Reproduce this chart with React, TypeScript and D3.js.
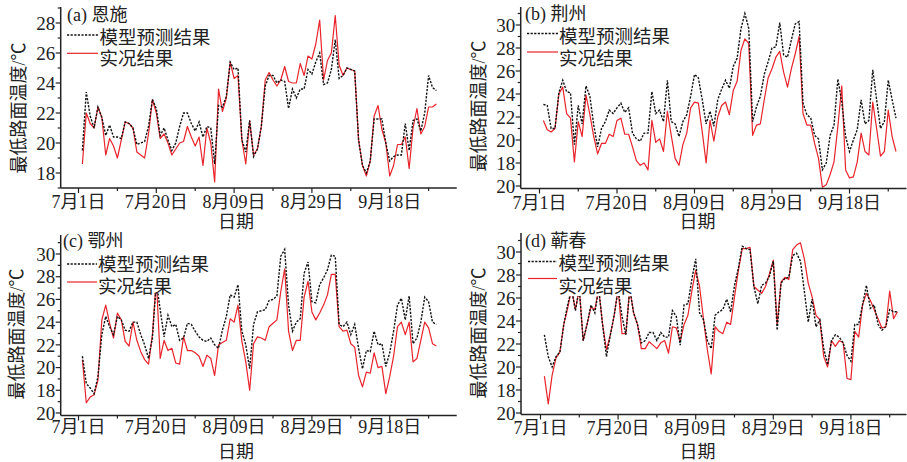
import React from "react";
import * as d3 from "d3";

// day index: 1 = 7月1日 ... 92 = 9月30日
const dayIndex = d3.range(1, 93);
const xTickDays = [0, 20, 40, 60, 80];
const xTickLabels = ["7月1日", "7月20日", "8月09日", "8月29日", "9月18日"];
const xMinorDays = [10, 30, 50, 70, 90];

const yTicksA = [18, 20, 22, 24, 26, 28];
const yTickLabelsA = ["18", "20", "22", "24", "26", "28"];
const yMinorA = [17, 19, 21, 23, 25, 27, 29];
const yTicksBCD = [16, 18, 20, 22, 24, 26, 28, 30];
const yTickLabelsBCD = ["20", "18", "20", "22", "24", "26", "28", "30"];
const yMinorBCD = [17, 19, 21, 23, 25, 27, 29, 31];

const seriesNames = ["模型预测结果", "实况结果"];
const panelTitles = ["(a) 恩施", "(b) 荆州", "(c) 鄂州", "(d) 蕲春"];
const yTitle = "最低路面温度/℃";
const xTitle = "日期";

const enshiModel = [19.5,23.4,21.8,21.0,22.4,21.7,20.5,21.2,20.4,20.4,20.3,21.4,21.3,21.0,19.9,20.0,20.1,21.1,22.9,22.3,20.5,21.0,20.2,19.5,20.0,21.1,22.0,22.0,21.3,20.8,21.4,20.4,21.1,21.0,18.6,22.5,22.4,23.1,25.4,24.9,25.0,20.2,19.4,21.5,19.1,19.6,21.1,23.8,24.5,24.5,24.0,24.2,24.1,22.3,23.6,23.0,23.6,23.6,24.9,24.6,25.4,26.0,23.9,24.0,24.9,26.9,24.3,24.5,25.0,24.9,24.8,20.2,18.5,18.0,18.8,21.6,21.6,21.6,20.0,18.8,19.1,19.2,19.2,21.3,19.5,21.5,21.6,20.8,22.0,24.5,23.7,23.5];
const enshiActual = [18.6,22.0,21.3,21.0,22.4,21.7,19.2,20.3,19.8,19.0,20.2,21.4,21.3,21.0,19.4,19.2,19.0,20.6,22.9,22.0,20.3,20.6,20.0,19.2,19.6,20.0,20.1,21.1,20.4,19.8,20.4,18.5,21.0,20.0,17.4,23.6,22.1,23.0,25.4,24.3,24.5,20.2,18.6,21.5,19.2,19.6,21.1,24.2,24.7,24.2,23.8,24.2,25.1,24.1,24.0,24.0,25.3,24.5,25.8,25.6,26.6,28.2,24.2,25.5,26.0,28.5,25.2,24.5,25.0,24.9,24.8,20.2,18.5,17.8,18.8,21.8,22.5,20.9,20.0,17.8,18.5,19.9,19.9,20.4,18.3,21.0,22.3,20.6,21.1,22.4,22.4,22.6];

const jingzhouModel = [23.1,23.0,21.0,21.0,24.1,25.2,24.2,24.1,19.6,23.0,21.4,24.7,23.8,21.3,19.4,21.0,21.6,22.6,22.3,22.8,23.2,22.4,22.8,20.6,20.1,19.9,20.6,20.6,24.2,22.3,22.6,21.6,25.2,21.6,21.4,20.3,21.6,22.2,23.8,25.7,25.4,23.5,21.4,22.5,21.2,23.5,24.4,25.2,24.5,26.4,27.1,29.7,31.0,29.7,21.6,22.9,23.8,25.7,26.8,28.0,28.1,30.2,27.4,27.2,28.7,30.1,30.3,23.2,22.2,21.9,20.4,20.1,17.4,18.0,20.4,21.3,25.3,23.3,20.3,19.0,20.0,20.9,23.5,21.4,21.7,26.1,23.5,21.0,21.6,25.2,23.5,21.9];
const jingzhouActual = [21.7,20.9,20.7,21.0,24.0,24.6,22.3,21.9,18.1,21.6,20.3,23.9,22.2,20.3,18.8,19.7,19.7,20.5,20.3,21.7,21.9,20.5,20.5,19.4,18.2,17.8,18.0,17.4,21.7,19.8,20.1,19.0,22.5,20.4,18.4,17.8,19.6,20.6,22.8,23.3,23.2,20.7,18.0,21.7,19.9,22.0,23.0,23.3,22.2,24.3,25.1,27.8,28.8,28.4,20.4,21.3,21.4,23.5,25.4,26.2,27.2,27.7,25.9,24.6,26.2,27.5,29.0,22.3,21.3,21.3,19.7,18.4,15.9,16.1,17.0,18.1,21.2,24.7,17.4,16.7,16.8,18.1,20.6,19.0,18.7,23.3,21.0,18.6,19.0,22.6,20.3,19.0];

const ezhouModel = [21.0,18.6,18.2,17.7,19.2,22.9,24.5,23.6,22.9,24.5,24.2,23.3,23.2,24.0,24.0,22.9,22.0,20.8,22.6,27.5,25.1,22.7,24.6,23.6,23.8,22.4,22.6,23.9,23.8,23.2,22.7,22.4,22.3,22.6,22.0,21.7,23.3,24.5,26.4,26.2,27.3,23.2,22.0,19.9,23.8,24.9,25.0,25.1,25.9,26.0,26.3,29.8,30.4,25.5,23.2,24.0,24.3,28.3,29.3,25.8,25.7,27.3,27.9,28.6,29.9,29.8,23.8,23.6,24.0,22.9,23.8,21.7,19.9,21.5,21.4,23.2,22.0,22.1,20.1,21.3,23.2,25.5,26.1,24.2,26.3,22.1,22.6,24.0,26.2,25.8,24.0,23.8];
const ezhouActual = [20.7,16.9,17.4,17.6,18.9,24.2,25.5,23.9,22.6,24.8,24.2,22.3,21.9,24.0,22.4,21.4,20.7,20.3,22.9,27.8,20.8,22.4,21.5,21.7,20.4,20.3,22.7,21.5,21.5,21.3,21.0,20.1,21.1,20.8,19.3,22.0,22.2,22.4,24.3,24.0,25.5,22.3,20.5,18.0,22.1,22.7,22.6,22.4,23.6,23.9,24.2,26.7,28.7,23.2,21.5,22.4,22.4,26.2,27.6,24.9,24.2,24.8,25.5,26.4,28.2,28.2,23.6,23.2,23.3,22.1,21.8,19.3,18.3,19.6,19.5,21.3,20.0,20.1,17.7,19.2,21.0,23.6,24.0,22.9,24.0,20.5,20.8,22.4,24.0,23.5,22.1,21.9];

const qichunModel = [22.8,20.9,20.0,20.9,21.3,23.7,25.4,26.8,24.9,26.8,22.3,23.7,25.4,24.7,26.8,23.7,20.9,22.8,24.5,26.8,24.4,22.8,26.8,24.7,23.7,22.1,22.3,23.0,23.0,22.3,23.0,22.6,22.6,24.9,24.4,21.9,25.4,25.5,27.6,29.4,24.7,24.1,22.3,21.6,24.5,24.8,25.0,25.9,24.8,27.1,28.6,30.5,30.3,30.2,27.0,25.5,27.1,27.3,27.9,29.2,23.2,27.3,27.7,27.8,29.7,29.9,29.2,26.6,23.9,25.9,23.5,24.1,21.6,20.2,22.3,22.8,22.6,22.1,21.0,20.5,23.7,23.7,25.4,27.1,25.1,25.4,23.7,23.2,23.5,25.0,24.8,24.8];
const qichunActual = [19.2,16.8,19.3,20.8,21.3,23.7,25.1,26.8,25.0,26.8,22.3,23.7,25.2,25.0,26.8,23.7,21.5,22.8,24.5,26.8,22.9,22.9,26.8,24.7,23.7,21.6,21.6,22.2,21.9,21.6,22.1,22.3,21.2,23.5,23.4,22.2,23.7,24.5,26.6,28.4,27.0,24.2,21.5,19.4,23.5,23.1,22.9,23.9,23.7,26.1,28.4,30.3,30.3,30.4,27.0,26.7,26.4,27.0,28.1,29.3,23.7,27.4,27.8,27.6,30.2,30.6,30.8,29.4,27.3,26.1,24.5,24.1,20.9,20.0,22.3,21.8,22.3,22.1,19.0,18.9,23.1,22.6,25.4,26.4,25.8,25.0,24.2,23.4,23.5,26.6,24.2,24.8];

const FONT = "'Liberation Serif', 'Noto Sans CJK SC', serif";
const TEXT = "#222";
const RED = "#e8232a";

type Layout = {
  axisX: number; axisRight: number; axisTop: number; axisBottom: number;
  xr: [number, number]; yv: [number, number]; yp: [number, number];
  titleX: number; titleY: number;
  legX0: number; legX1: number; legY1: number; legY2: number;
  legTextX: number; legTextY1: number; legTextY2: number;
  yTitleX: number; yTitleY: number; xTitleX: number; xTitleY: number;
  xTickY: number; boxRight: number; boxBottom: number;
};

const layouts: Layout[] = [
  { axisX: 60.7, axisRight: 456.7, axisTop: 7, axisBottom: 188, xr: [78.5, 389.7], yv: [29, 17], yp: [8, 188],
    titleX: 67, titleY: 14.5, legX0: 67, legX1: 98, legY1: 35, legY2: 53.3, legTextX: 99.5, legTextY1: 37.5, legTextY2: 59,
    yTitleX: 19, yTitleY: 108, xTitleX: 236, xTitleY: 222, xTickY: 202, boxRight: 212, boxBottom: 68 },
  { axisX: 520.7, axisRight: 906.5, axisTop: 7, axisBottom: 188.5, xr: [539.5, 849.5], yv: [30, 16], yp: [25, 186],
    titleX: 525, titleY: 13.5, legX0: 527, legX1: 558, legY1: 33.5, legY2: 52, legTextX: 559, legTextY1: 36.5, legTextY2: 58.5,
    yTitleX: 479, yTitleY: 106, xTitleX: 697.5, xTitleY: 222, xTickY: 203, boxRight: 670, boxBottom: 68 },
  { axisX: 60.7, axisRight: 456.7, axisTop: 235, axisBottom: 415.5, xr: [78.5, 389.7], yv: [30, 16], yp: [254, 413],
    titleX: 63, titleY: 240.5, legX0: 67, legX1: 97, legY1: 264, legY2: 282, legTextX: 98, legTextY1: 264.5, legTextY2: 287,
    yTitleX: 17, yTitleY: 334, xTitleX: 236, xTitleY: 451.5, xTickY: 427, boxRight: 208, boxBottom: 293 },
  { axisX: 521, axisRight: 906.5, axisTop: 233, axisBottom: 414.5, xr: [540.5, 850.9], yv: [30, 16], yp: [252, 413],
    titleX: 525, titleY: 240.5, legX0: 528, legX1: 557, legY1: 261.5, legY2: 278.5, legTextX: 558.5, legTextY1: 263.5, legTextY2: 286.5,
    yTitleX: 478.5, yTitleY: 333, xTitleX: 697.5, xTitleY: 452, xTickY: 428, boxRight: 668, boxBottom: 296 },
];

const panelData = [
  { model: enshiModel, actual: enshiActual, ticks: yTicksA, labels: yTickLabelsA, minor: yMinorA },
  { model: jingzhouModel, actual: jingzhouActual, ticks: yTicksBCD, labels: yTickLabelsBCD, minor: yMinorBCD },
  { model: ezhouModel, actual: ezhouActual, ticks: yTicksBCD, labels: yTickLabelsBCD, minor: yMinorBCD },
  { model: qichunModel, actual: qichunActual, ticks: yTicksBCD, labels: yTickLabelsBCD, minor: yMinorBCD },
];

function Panel({ idx }: { idx: number }) {
  const L = layouts[idx];
  const D = panelData[idx];
  const x = d3.scaleLinear().domain([0, 80]).range(L.xr);
  const y = d3.scaleLinear().domain(L.yv).range(L.yp);
  const line = d3.line<number>().x((_, i) => x(dayIndex[i])).y((v) => y(v));
  const inY = (v: number) => y(v) >= L.axisTop - 0.5 && y(v) <= L.axisBottom + 0.5;
  return (
    <g>
      <path d={line(D.actual) || ""} fill="none" stroke={RED} strokeWidth={1.2} strokeLinejoin="round" />
      <path d={line(D.model) || ""} fill="none" stroke="#111" strokeWidth={1.4} strokeDasharray="2.2,1.4" />
      {/* legend box */}
      <rect x={L.axisX + 1} y={L.axisTop} width={L.boxRight - L.axisX - 1} height={L.boxBottom - L.axisTop} fill="#fff" />
      {/* axes */}
      <line x1={L.axisX} x2={L.axisX} y1={L.axisTop} y2={L.axisBottom} stroke={TEXT} strokeWidth={1.5} />
      <line x1={L.axisX} x2={L.axisRight} y1={L.axisBottom} y2={L.axisBottom} stroke={TEXT} strokeWidth={1.5} />
      {D.ticks.map((t, i) => (
        <g key={"yt" + i}>
          <line x1={L.axisX - 5} x2={L.axisX} y1={y(t)} y2={y(t)} stroke={TEXT} strokeWidth={1.2} />
          <text x={L.axisX - 5.5} y={y(t)} dy="0.35em" textAnchor="end" fontSize={19} fill={TEXT} fontFamily={FONT}>{D.labels[i]}</text>
        </g>
      ))}
      {D.minor.filter(inY).map((t, i) => (
        <line key={"ym" + i} x1={L.axisX - 3} x2={L.axisX} y1={y(t)} y2={y(t)} stroke={TEXT} strokeWidth={1.2} />
      ))}
      {xTickDays.map((t, i) => (
        <g key={"xt" + i}>
          <line x1={x(t)} x2={x(t)} y1={L.axisBottom} y2={L.axisBottom + 5} stroke={TEXT} strokeWidth={1.2} />
          <text x={x(t)} y={L.xTickY} dy="0.35em" textAnchor="middle" fontSize={18} fill={TEXT} fontFamily={FONT}>{xTickLabels[i]}</text>
        </g>
      ))}
      {xMinorDays.map((t, i) => (
        <line key={"xm" + i} x1={x(t)} x2={x(t)} y1={L.axisBottom} y2={L.axisBottom + 3} stroke={TEXT} strokeWidth={1.2} />
      ))}
      {/* titles */}
      <text x={L.titleX} y={L.titleY} dy="0.35em" fontSize={18} fill={TEXT} fontFamily={FONT}>{panelTitles[idx]}</text>
      <line x1={L.legX0} x2={L.legX1} y1={L.legY1} y2={L.legY1} stroke="#111" strokeWidth={1.3} strokeDasharray="2.2,1.4" />
      <text x={L.legTextX} y={L.legTextY1} dy="0.35em" fontSize={18.5} fill={TEXT} fontFamily={FONT}>{seriesNames[0]}</text>
      <line x1={L.legX0} x2={L.legX1} y1={L.legY2} y2={L.legY2} stroke={RED} strokeWidth={1.2} />
      <text x={L.legTextX} y={L.legTextY2} dy="0.35em" fontSize={18.5} fill={TEXT} fontFamily={FONT}>{seriesNames[1]}</text>
      <text x={L.xTitleX} y={L.xTitleY} dy="0.35em" textAnchor="middle" fontSize={18} fill={TEXT} fontFamily={FONT}>{xTitle}</text>
      <text transform={`translate(${L.yTitleX},${L.yTitleY}) rotate(-90)`} dy="0.35em" textAnchor="middle" fontSize={18} fill={TEXT} fontFamily={FONT}>{yTitle}</text>
    </g>
  );
}

export default function App() {
  return (
    <div style={{ position: "absolute", left: 0, top: 0 }}>
      <svg width={907} height={462} style={{ display: "block", background: "#fff" }}>
        {[0, 1, 2, 3].map((i) => <Panel key={i} idx={i} />)}
      </svg>
    </div>
  );
}
